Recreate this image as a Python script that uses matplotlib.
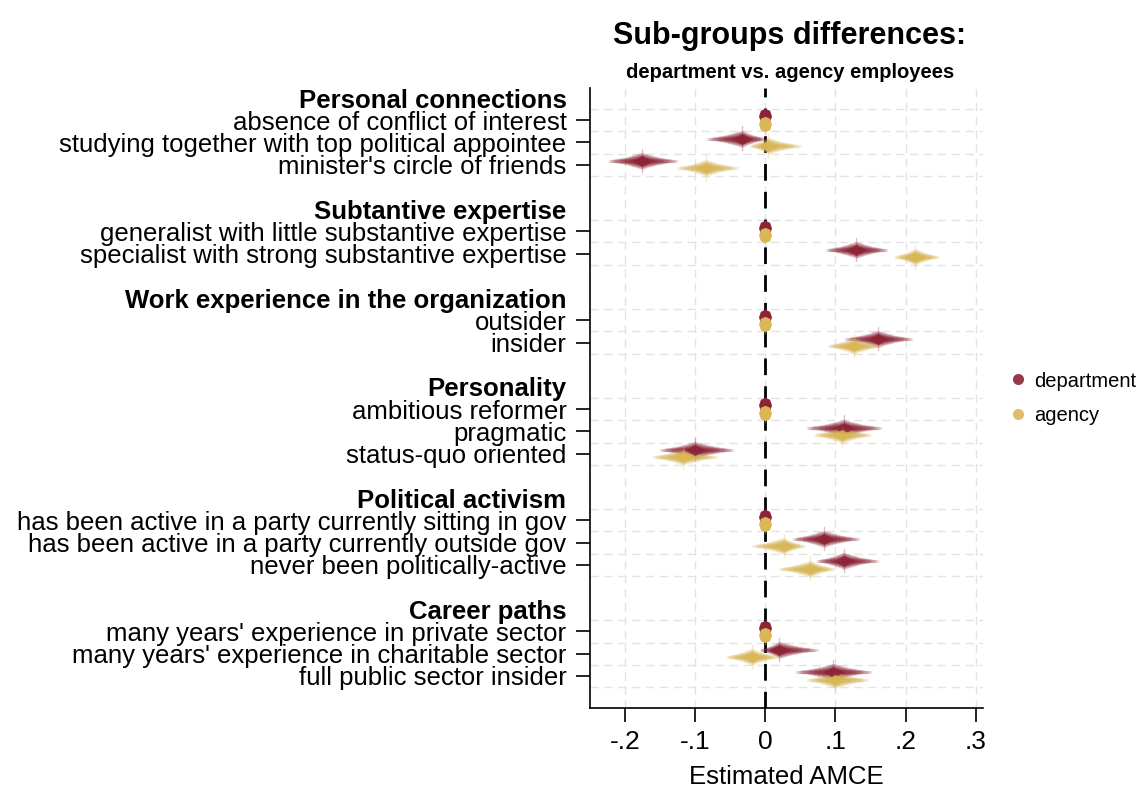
import numpy as np
import matplotlib
matplotlib.use('Agg')
import matplotlib.pyplot as plt

plt.rcParams['font.family'] = ['Liberation Sans', 'DejaVu Sans']

# ---- data
groups = ['Personal connections', 'Subtantive expertise',
          'Work experience in the organization', 'Personality',
          'Political activism', 'Career paths']
levels = [
    ['absence of conflict of interest',
     'studying together with top political appointee',
     "minister's circle of friends"],
    ['generalist with little substantive expertise',
     'specialist with strong substantive expertise'],
    ['outsider', 'insider'],
    ['ambitious reformer', 'pragmatic', 'status-quo oriented'],
    ['has been active in a party currently sitting in gov',
     'has been active in a party currently outside gov',
     'never been politically-active'],
    ["many years' experience in private sector",
     "many years' experience in charitable sector",
     'full public sector insider'],
]

dept_est = [0, -0.033, -0.176, 0, 0.130, 0, 0.161, 0, 0.112, -0.100,
            0, 0.083, 0.112, 0, 0.020, 0.097]
dept_lo = [0, -0.085, -0.225, 0, 0.085, 0, 0.112, 0, 0.058, -0.152,
           0, 0.038, 0.072, 0, -0.008, 0.042]
dept_hi = [0, 0.002, -0.124, 0, 0.175, 0, 0.210, 0, 0.167, -0.044,
           0, 0.135, 0.162, 0, 0.076, 0.152]

agency_est = [0, 0.004, -0.084, 0, 0.214, 0, 0.126, 0, 0.110, -0.117,
              0, 0.026, 0.064, 0, -0.019, 0.100]
agency_lo = [0, -0.023, -0.127, 0, 0.183, 0, 0.088, 0, 0.068, -0.162,
             0, -0.020, 0.018, 0, -0.057, 0.058]
agency_hi = [0, 0.052, -0.038, 0, 0.248, 0, 0.167, 0, 0.152, -0.068,
             0, 0.057, 0.099, 0, 0.019, 0.148]

xticks = [-0.2, -0.1, 0, 0.1, 0.2, 0.3]
xticklabels = ['-.2', '-.1', '0', '.1', '.2', '.3']

DEPT = '#8c2436'
AGENCY = '#d9b757'

# ---- row layout: header row, items, one blank row between groups
rows, labels, is_header, item_rows, grid_rows = [], [], [], [], []
r = 0
for g, levs in zip(groups, levels):
    rows.append(r); labels.append(g); is_header.append(True)
    grid_rows.append(r + 0.5)
    r += 1
    for lev in levs:
        rows.append(r); labels.append(lev); is_header.append(False)
        item_rows.append(r)
        grid_rows.append(r + 0.5)
        r += 1
    r += 1

fig = plt.figure(figsize=(11.48, 7.93), dpi=100)
ax = fig.add_axes([0.514, 0.107, 0.342, 0.782])


def spindle(y, est, lo, hi, color):
    if lo == hi:
        ax.plot(est, y, marker=[(-0.85, 0), (-0.6, 0.75), (0, 1), (0.6, 0.75),
                                (0.85, 0), (0.6, -0.75), (0, -1), (-0.6, -0.75)],
                color=color, ms=11, mec='none', zorder=5)
        ax.plot([est, est], [y - 0.4, y + 0.4], color=color, lw=1,
                alpha=0.4, zorder=4)
        return
    n = 36
    for k in range(n):
        t = 1 - k / n
        ax.plot([est - (est - lo) * t, est + (hi - est) * t], [y, y],
                color=color, lw=2.0 + 11 * (1 - t) ** 1.6, alpha=0.085,
                solid_capstyle='butt', zorder=3)
    ax.plot(est, y, marker=[(-1.9, 0), (0, 1), (1.9, 0), (0, -1)],
            color=color, ms=15, mec='none', alpha=0.85, zorder=4)
    ax.plot([est, est], [y - 0.55, y + 0.5], color=color, lw=0.9,
            alpha=0.3, zorder=3)


for i, y in enumerate(item_rows):
    spindle(y - 0.17, dept_est[i], dept_lo[i], dept_hi[i], DEPT)
    spindle(y + 0.17, agency_est[i], agency_lo[i], agency_hi[i], AGENCY)

# grid
for gy in grid_rows:
    ax.axhline(gy, color='#e3e3e3', lw=1, ls=(0, (6, 4)), zorder=1)
for gx in xticks:
    ax.axvline(gx, color='#e3e3e3', lw=1, ls=(0, (6, 4)), zorder=1)
ax.axvline(0, color='black', lw=2, ls=(0, (6, 4)), zorder=2)

ax.set_xlim(-0.25, 0.31)
ax.set_ylim(r - 0.55, -0.45)
ax.set_xticks(xticks)
ax.set_xticklabels(xticklabels, fontsize=19)
ax.set_yticks(rows)
ax.set_yticklabels(labels, fontsize=18.5)
for tick, hdr in zip(ax.yaxis.get_major_ticks(), is_header):
    if hdr:
        tick.tick1line.set_visible(False)
        tick.label1.set_fontweight('bold')
ax.tick_params(axis='y', length=10, width=1.2, pad=7)
ax.tick_params(axis='x', length=10, width=1.2, pad=6)
ax.set_xlabel('Estimated AMCE', fontsize=18.5, labelpad=8)

for s in ['top', 'right']:
    ax.spines[s].set_visible(False)
for s in ['left', 'bottom']:
    ax.spines[s].set_linewidth(1.2)

fig.text(0.688, 0.954, 'Sub-groups differences:', ha='center', va='center',
         fontsize=22, fontweight='bold')
fig.text(0.688, 0.909, 'department vs. agency employees', ha='center',
         va='center', fontsize=14.5, fontweight='bold')

h1, = ax.plot([], [], 'o', color=DEPT, ms=8, mec='none', alpha=0.9)
h2, = ax.plot([], [], 'o', color=AGENCY, ms=8, mec='none', alpha=0.9)
fig.legend([h1, h2], ['department', 'agency'], loc='center left',
           bbox_to_anchor=(0.862, 0.498), frameon=False, fontsize=14.5,
           handletextpad=0.3, labelspacing=0.75, handlelength=1)

fig.savefig('out.png', dpi=100, facecolor='white')
